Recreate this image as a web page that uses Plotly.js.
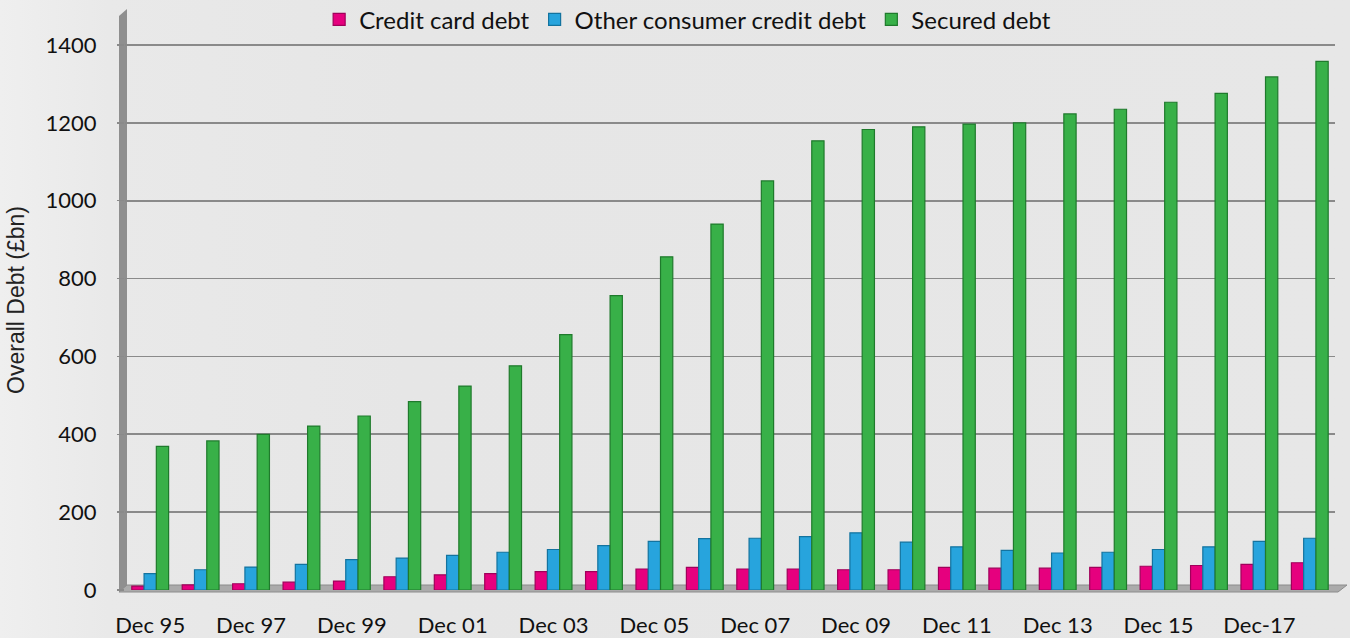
<!DOCTYPE html>
<html>
<head>
<meta charset="utf-8">
<script src="https://cdn.plot.ly/plotly-3.0.1.min.js"></script>
<style>
  html, body { margin:0; padding:0; }
  body { width:1350px; height:638px; overflow:hidden;
         background: linear-gradient(to right, #efefef 0%, #e9e9e9 8%, #e6e6e6 30%, #e7e7e7 100%); }
  #chart { width:1350px; height:638px; }
</style>
</head>
<body>
<div id="chart"></div>
<script>
const categories = ["Dec 95","Dec 96","Dec 97","Dec 98","Dec 99","Dec 00","Dec 01","Dec 02",
  "Dec 03","Dec 04","Dec 05","Dec 06","Dec 07","Dec 08","Dec 09","Dec 10","Dec 11","Dec 12",
  "Dec 13","Dec 14","Dec 15","Dec 16","Dec-17","Dec-18"];
const creditCard = [10,13,16,20,23,34,39,42,47,47,54,58,54,54,52,52,58,56,56,58,61,63,66,70];
const otherConsumer = [42,52,59,66,78,82,89,97,104,114,125,132,133,137,147,123,111,102,95,97,104,111,125,133];
const secured = [369,383,400,421,447,484,524,576,656,756,856,940,1051,1154,1183,1190,1197,1200,1223,1235,1253,1276,1318,1358];
const tickLabels = ["Dec 95","Dec 97","Dec 99","Dec 01","Dec 03","Dec 05","Dec 07","Dec 09","Dec 11","Dec 13","Dec 15","Dec-17"];
const yTicks = [0,200,400,600,800,1000,1200,1400];

// pixel helpers for decorative 3D wall/floor shapes (plot area 125..1335 x, 10..590 y)
const L = 125, W = 1210, T = 10, H = 580;
const px = x => ((x - L) / W).toFixed(5);
const py = y => ((T + H - y) / H).toFixed(5);
const pathOf = pts => 'M' + pts.map(p => px(p[0]) + ',' + py(p[1])).join(' L') + ' Z';

const mk = (name, y, color, line) => ({
  type: 'bar', name: name, x: categories, y: y,
  marker: { color: color, line: { color: line, width: 1.2 } }
});

const data = [
  mk('Credit card debt', creditCard, '#e6007e', '#a0005a'),
  mk('Other consumer credit debt', otherConsumer, '#27a4dd', '#13739f'),
  mk('Secured debt', secured, '#38b048', '#1f7a2c')
];

const layout = {
  width: 1350, height: 638,
  margin: { l: L, r: 1350 - L - W, t: T, b: 638 - T - H, autoexpand: false },
  paper_bgcolor: 'rgba(0,0,0,0)', plot_bgcolor: 'rgba(0,0,0,0)',
  barmode: 'group', bargap: 0.27, bargroupgap: 0,
  font: { family: 'Lato, "Open Sans", sans-serif', color: '#111' },
  showlegend: true,
  legend: { orientation: 'h', x: 0.465, xanchor: 'center', y: 0.983, yanchor: 'middle',
            font: { size: 24, family: 'Lato, sans-serif', color: '#111' },
            bgcolor: 'rgba(0,0,0,0)', itemwidth: 30, traceorder: 'normal' },
  xaxis: {
    type: 'category', tickmode: 'array', tickvals: tickLabels, ticktext: tickLabels,
    tickfont: { size: 22, family: 'Lato, sans-serif', color: '#111' },
    ticks: '', showgrid: false, showline: false, zeroline: false,
    ticklabelstandoff: 20, range: [-0.5, 23.5]
  },
  yaxis: {
    range: [0, 1490], tickmode: 'array', tickvals: yTicks,
    tickfont: { size: 22, family: 'Lato, sans-serif', color: '#111' },
    ticks: 'outside', ticklen: 7, tickcolor: '#8a8a8a', tickwidth: 1.5,
    ticklabelstandoff: 16,
    showgrid: true, gridcolor: '#8a8a8a', gridwidth: 1.8,
    zeroline: false, showline: false,
    title: { text: 'Overall Debt (£bn)', standoff: 14,
             font: { size: 23, family: '"Liberation Sans", Arial, sans-serif', color: '#222' } }
  },
  shapes: [
    // side wall
    { type: 'path', xref: 'paper', yref: 'paper', layer: 'below',
      path: pathOf([[119,592],[119,16],[127,9],[127,586]]),
      fillcolor: '#8f8f8f', line: { width: 0 } },
    // floor
    { type: 'path', xref: 'paper', yref: 'paper', layer: 'below',
      path: pathOf([[119,592],[1338,592],[1347,585],[127,585]]),
      fillcolor: '#ababab', line: { color: '#8c8c8c', width: 1 } }
  ]
};

Plotly.newPlot('chart', data, layout, { displayModeBar: false, staticPlot: true });
</script>
</body>
</html>
